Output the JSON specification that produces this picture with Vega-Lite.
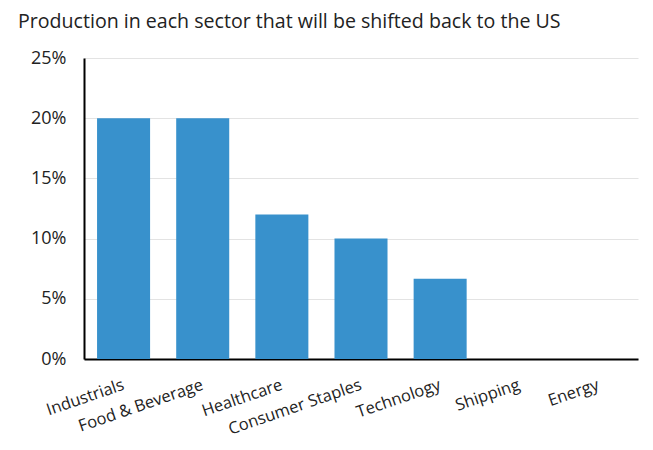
{
  "$schema": "https://vega.github.io/schema/vega-lite/v6.json",
  "width": 554,
  "height": 301,
  "autosize": {"type": "none"},
  "padding": {"left": 84, "top": 58, "right": 15, "bottom": 91},
  "background": "white",
  "title": {
    "text": "Production in each sector that will be shifted back to the US",
    "anchor": "start",
    "frame": "group",
    "dx": -66,
    "offset": 16,
    "font": "Open Sans",
    "fontSize": 19.6,
    "fontWeight": "normal",
    "color": "#222222"
  },
  "config": {
    "view": {"stroke": null},
    "font": "Open Sans"
  },
  "data": {
    "values": [
      {"sector": "Industrials", "share": 20},
      {"sector": "Food & Beverage", "share": 20},
      {"sector": "Healthcare", "share": 12},
      {"sector": "Consumer Staples", "share": 10},
      {"sector": "Technology", "share": 6.67},
      {"sector": "Shipping", "share": 0},
      {"sector": "Energy", "share": 0}
    ]
  },
  "mark": {"type": "bar", "color": "#3891cc"},
  "encoding": {
    "x": {
      "field": "sector",
      "type": "nominal",
      "sort": null,
      "scale": {"paddingInner": 0.33, "paddingOuter": 0.165},
      "axis": {
        "title": null,
        "labelAngle": -19,
        "labelAlign": "right",
        "labelBaseline": "middle",
        "labelFontSize": 16.5,
        "labelColor": "#222222",
        "labelPadding": 25,
        "ticks": false,
        "domainColor": "#000000",
        "domainWidth": 2
      }
    },
    "y": {
      "field": "share",
      "type": "quantitative",
      "scale": {"domain": [0, 25]},
      "axis": {
        "title": null,
        "values": [0, 5, 10, 15, 20, 25],
        "labelExpr": "datum.value + '%'",
        "labelFontSize": 18,
        "labelColor": "#222222",
        "labelPadding": 18,
        "ticks": false,
        "domainColor": "#000000",
        "domainWidth": 2,
        "grid": true,
        "gridColor": "#e3e3e3",
        "gridWidth": 1
      }
    }
  }
}
